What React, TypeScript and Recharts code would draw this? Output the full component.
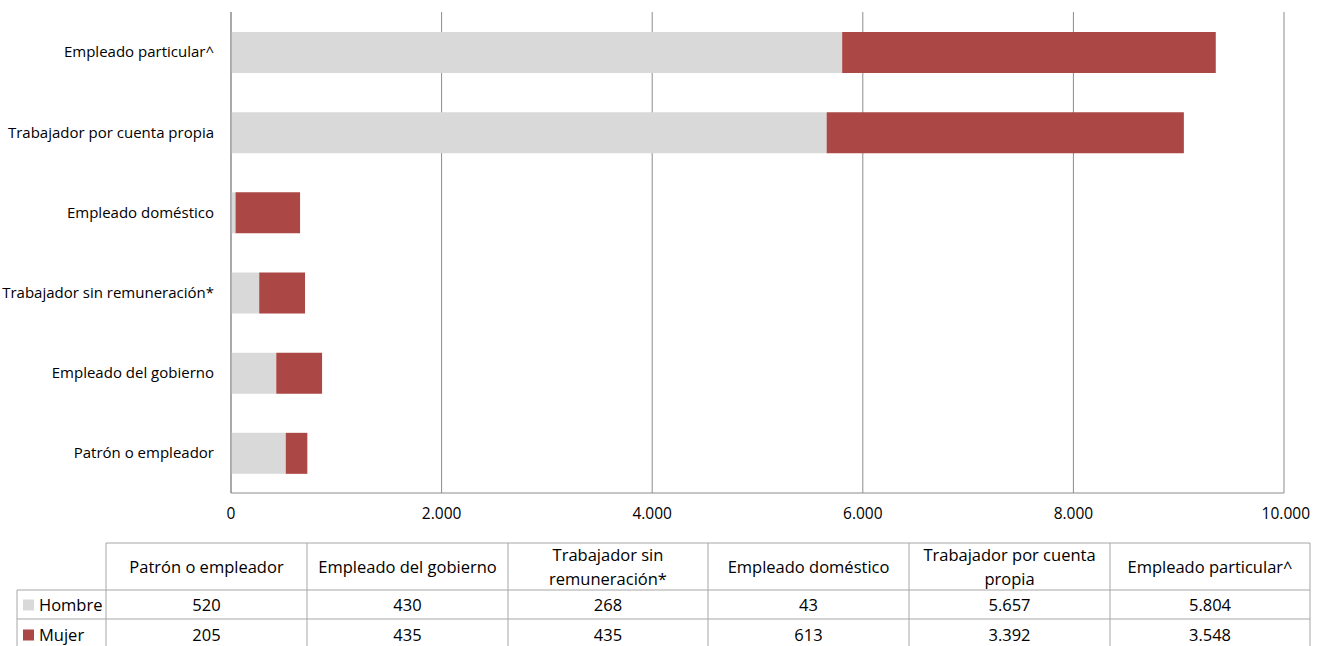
import React from "react";
import { BarChart, Bar, XAxis, YAxis, CartesianGrid } from "recharts";

const categories = [
  "Patrón o empleador",
  "Empleado del gobierno",
  "Trabajador sin remuneración*",
  "Empleado doméstico",
  "Trabajador por cuenta propia",
  "Empleado particular^",
];
const tableHeaders = [
  ["Patrón o empleador"],
  ["Empleado del gobierno"],
  ["Trabajador sin", "remuneración*"],
  ["Empleado doméstico"],
  ["Trabajador por cuenta", "propia"],
  ["Empleado particular^"],
];
const hombre = [520, 430, 268, 43, 5657, 5804];
const mujer = [205, 435, 435, 613, 3392, 3548];
const xTicks = [0, 2000, 4000, 6000, 8000, 10000];

const GRAY = "#D9D9D9";
const RED = "#AB4745";
const LINE = "#8C8C8C";
const TBL = "#A6A6A6";
const FONT = "'Open Sans', 'Noto Sans', sans-serif";

const fmt = (v: number) => v.toString().replace(/\B(?=(\d{3})+(?!\d))/g, ".");

const chartData = categories
  .map((c, i) => ({ name: c, hombre: hombre[i], mujer: mujer[i] }))
  .reverse();

const XTick = (props: any) => {
  const { x, y, payload } = props;
  const last = payload.value === xTicks[xTicks.length - 1];
  return (
    <text
      x={last ? x + 26 : x}
      y={y}
      dy="0.71em"
      textAnchor={last ? "end" : "middle"}
      fontSize={15.5}
      fontFamily={FONT}
      fill="#000"
    >
      {fmt(payload.value)}
    </text>
  );
};

const colX = [106, 307, 508, 708, 909, 1110, 1310];
const rowY = [543, 590, 619, 650];

function DataTable() {
  const fs = 16.5;
  return (
    <svg width={1323} height={646} style={{ position: "absolute", left: 0, top: 0 }}>
      <line x1={colX[0]} y1={rowY[0]} x2={colX[6]} y2={rowY[0]} stroke={TBL} />
      <line x1={17} y1={rowY[1]} x2={colX[6]} y2={rowY[1]} stroke={TBL} />
      <line x1={17} y1={rowY[2]} x2={colX[6]} y2={rowY[2]} stroke={TBL} />
      <line x1={17} y1={rowY[1]} x2={17} y2={rowY[3]} stroke={TBL} />
      {colX.map((x, i) => (
        <line key={i} x1={x} y1={rowY[0]} x2={x} y2={rowY[3]} stroke={TBL} />
      ))}
      {tableHeaders.map((lines, i) => {
        const cx = (colX[i] + colX[i + 1]) / 2;
        const cy = (rowY[0] + rowY[1]) / 2 + 1;
        return lines.map((ln, j) => (
          <text
            key={i + "-" + j}
            x={cx}
            y={cy + (j - (lines.length - 1) / 2) * 24}
            dy="0.35em"
            textAnchor="middle"
            fontSize={fs}
            fontFamily={FONT}
            fill="#000"
          >
            {ln}
          </text>
        ));
      })}
      {[hombre, mujer].map((arr, r) =>
        arr.map((v, i) => (
          <text
            key={r + "-" + i}
            x={(colX[i] + colX[i + 1]) / 2}
            y={(rowY[r + 1] + rowY[r + 2]) / 2 + 1}
            dy="0.35em"
            textAnchor="middle"
            fontSize={fs}
            fontFamily={FONT}
            fill="#000"
          >
            {fmt(v)}
          </text>
        ))
      )}
      {[
        { label: "Hombre", color: GRAY },
        { label: "Mujer", color: RED },
      ].map((s, r) => {
        const cy = (rowY[r + 1] + rowY[r + 2]) / 2;
        return (
          <g key={s.label}>
            <rect x={23} y={cy - 5} width={11} height={11} fill={s.color} />
            <text x={39} y={cy + 1} dy="0.35em" fontSize={fs} fontFamily={FONT} fill="#000">
              {s.label}
            </text>
          </g>
        );
      })}
    </svg>
  );
}

export default function App() {
  return (
    <div style={{ position: "absolute", left: 0, top: 0, width: 1323, height: 646, background: "#fff", overflow: "hidden" }}>
      <div style={{ position: "absolute", left: 0, top: 0 }}>
        <BarChart
          width={1323}
          height={540}
          data={chartData}
          layout="vertical"
          margin={{ top: 12, right: 39, bottom: 17, left: 0 }}
          barSize={41}
        >
          <CartesianGrid horizontal={false} vertical={true} stroke={LINE} strokeWidth={1} />
          <XAxis
            type="number"
            domain={[0, 10000]}
            ticks={xTicks}
            axisLine={{ stroke: LINE }}
            tickLine={false}
            tickSize={0}
            tickMargin={15}
            height={30}
            tick={<XTick />}
            interval={0}
          />
          <YAxis
            type="category"
            dataKey="name"
            width={231}
            axisLine={{ stroke: LINE }}
            tickLine={false}
            tickSize={0}
            tickMargin={17}
            interval={0}
            tick={{ fontSize: 15, fontFamily: FONT, fill: "#000" }}
          />
          <Bar dataKey="hombre" stackId="a" fill={GRAY} isAnimationActive={false} />
          <Bar dataKey="mujer" stackId="a" fill={RED} isAnimationActive={false} />
        </BarChart>
      </div>
      <DataTable />
    </div>
  );
}
